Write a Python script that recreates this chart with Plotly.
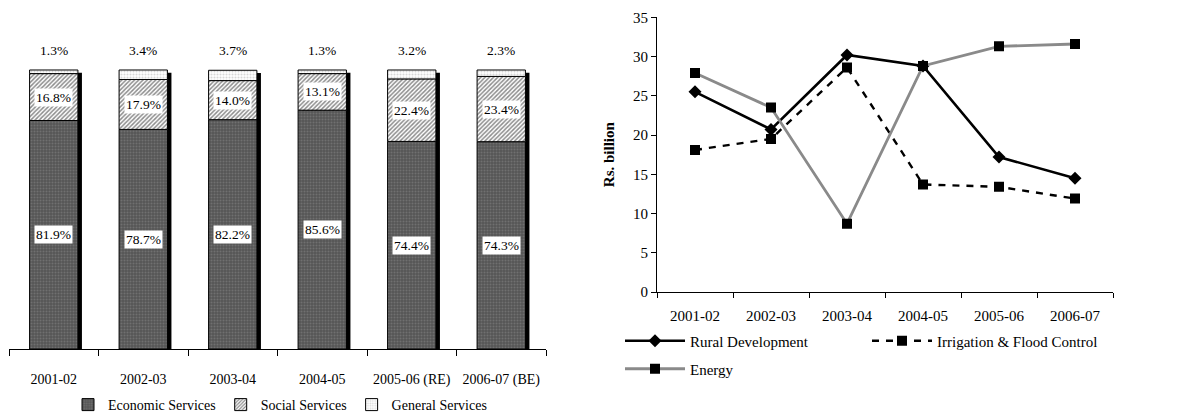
import plotly.graph_objects as go

# ---------------- data ----------------
years_left = ["2001-02", "2002-03", "2003-04", "2004-05", "2005-06 (RE)", "2006-07 (BE)"]
economic = [81.9, 78.7, 82.2, 85.6, 74.4, 74.3]
social = [16.8, 17.9, 14.0, 13.1, 22.4, 23.4]
general = [1.3, 3.4, 3.7, 1.3, 3.2, 2.3]

years_right = ["2001-02", "2002-03", "2003-04", "2004-05", "2005-06", "2006-07"]
rural = [25.5, 20.7, 30.2, 28.8, 17.2, 14.5]
irrigation = [18.1, 19.5, 28.6, 13.7, 13.4, 11.9]
energy = [27.9, 23.5, 8.7, 28.8, 31.3, 31.6]

FONT = "Liberation Serif, Times New Roman, serif"
W, H = 1181, 416

base_social = [e for e in economic]
base_general = [e + s for e, s in zip(economic, social)]
totals = [e + s + g for e, s, g in zip(economic, social, general)]

BW = 0.54
OFF = -BW / 2

fig = go.Figure()

# shadow of the bars (3-D look)
fig.add_trace(go.Bar(
    x=years_left, y=[t - 1.0 for t in totals], base=0,
    width=BW, offset=OFF + 0.045,
    marker=dict(color="black", line=dict(width=0)),
    showlegend=False, hoverinfo="skip", xaxis="x", yaxis="y"))

fig.add_trace(go.Bar(
    x=years_left, y=economic, base=0, name="Economic Services",
    width=BW, offset=OFF,
    marker=dict(color="#555555", line=dict(color="black", width=1),
                pattern=dict(shape=".", bgcolor="#555555", fgcolor="#8c8c8c",
                             size=3, solidity=0.35)),
    legend="legend", xaxis="x", yaxis="y"))
fig.add_trace(go.Bar(
    x=years_left, y=social, base=base_social, name="Social Services",
    width=BW, offset=OFF,
    marker=dict(color="white", line=dict(color="black", width=1),
                pattern=dict(shape="/", bgcolor="white", fgcolor="#1a1a1a",
                             size=3, solidity=0.5)),
    legend="legend", xaxis="x", yaxis="y"))
fig.add_trace(go.Bar(
    x=years_left, y=general, base=base_general, name="General Services",
    width=BW, offset=OFF,
    marker=dict(color="white", line=dict(color="black", width=1),
                pattern=dict(shape=".", bgcolor="white", fgcolor="#b0b0b0",
                             size=3, solidity=0.4)),
    legend="legend", xaxis="x", yaxis="y"))

# value labels
annotations = []
for i, yr in enumerate(years_left):
    annotations.append(dict(x=yr, y=economic[i] / 2, xref="x", yref="y",
                            text=f"{economic[i]:.1f}%", showarrow=False,
                            bgcolor="white", borderpad=1,
                            font=dict(family=FONT, size=13.5, color="black")))
    annotations.append(dict(x=yr, y=economic[i] + social[i] / 2, xref="x", yref="y",
                            text=f"{social[i]:.1f}%", showarrow=False,
                            bgcolor="white", borderpad=1,
                            font=dict(family=FONT, size=13.5, color="black")))
    annotations.append(dict(x=yr, y=totals[i], xref="x", yref="y",
                            text=f"{general[i]:.1f}%", showarrow=False,
                            yanchor="bottom", yshift=10,
                            font=dict(family=FONT, size=13.5, color="black")))

# ---------------- right chart ----------------
fig.add_trace(go.Scatter(
    x=years_right, y=rural, name="Rural Development", mode="lines+markers",
    line=dict(color="black", width=2.6),
    marker=dict(symbol="diamond", size=10, color="black"),
    legend="legend2", xaxis="x2", yaxis="y2"))
fig.add_trace(go.Scatter(
    x=years_right, y=irrigation, name="Irrigation & Flood Control", mode="lines+markers",
    line=dict(color="black", width=2.4, dash="7px,7px"),
    marker=dict(symbol="square", size=10, color="black"),
    legend="legend2", xaxis="x2", yaxis="y2"))
fig.add_trace(go.Scatter(
    x=years_right, y=energy, name="Energy", mode="lines+markers",
    line=dict(color="#8a8a8a", width=2.8),
    marker=dict(symbol="square", size=10, color="black"),
    legend="legend3", xaxis="x2", yaxis="y2"))

fig.update_layout(
    width=W, height=H,
    margin=dict(l=0, r=0, t=0, b=0, autoexpand=False),
    paper_bgcolor="white", plot_bgcolor="white",
    barmode="overlay",
    font=dict(family=FONT, size=14, color="black"),
    annotations=annotations,
    xaxis=dict(domain=[9 / W, 546 / W], type="category", range=[-0.5, 5.5],
               showline=True, linecolor="black", linewidth=1,
               ticks="outside", tickson="boundaries", ticklen=6, tickcolor="black",
               showgrid=False, zeroline=False, ticklabelstandoff=17,
               tickfont=dict(family=FONT, size=14)),
    yaxis=dict(domain=[1 - 349 / H, 1 - 40 / H], range=[0, 110.75],
               visible=False, showgrid=False, zeroline=False),
    xaxis2=dict(domain=[657 / W, 1113 / W], anchor="y2", type="category",
                range=[-0.5, 5.5],
                showline=True, linecolor="black", linewidth=1,
                ticks="outside", tickson="boundaries", ticklen=5, tickcolor="black",
                showgrid=False, zeroline=False, ticklabelstandoff=10,
                tickfont=dict(family=FONT, size=15)),
    yaxis2=dict(domain=[1 - 292 / H, 1 - 17.3 / H], anchor="x2", range=[0, 35],
                dtick=5, showline=True, linecolor="black", linewidth=1,
                ticks="outside", ticklen=5, tickcolor="black",
                showgrid=False, zeroline=False,
                tickfont=dict(family=FONT, size=15),
                title=dict(text="<b>Rs. billion</b>", standoff=14,
                           font=dict(family=FONT, size=15))),
    legend=dict(orientation="h", x=280 / W, xanchor="center",
                y=1 - 405 / H, yanchor="middle", itemwidth=30,
                font=dict(family=FONT, size=14), bgcolor="rgba(0,0,0,0)",
                traceorder="normal"),
    legend2=dict(orientation="h", x=620 / W, xanchor="left",
                 y=1 - 341 / H, yanchor="middle", itemwidth=60,
                 entrywidth=172, entrywidthmode="pixels",
                 font=dict(family=FONT, size=15), bgcolor="rgba(0,0,0,0)",
                 traceorder="normal"),
    legend3=dict(orientation="h", x=620 / W, xanchor="left",
                 y=1 - 369 / H, yanchor="middle", itemwidth=60,
                 font=dict(family=FONT, size=15), bgcolor="rgba(0,0,0,0)"),
)

fig.write_html("out.html")
